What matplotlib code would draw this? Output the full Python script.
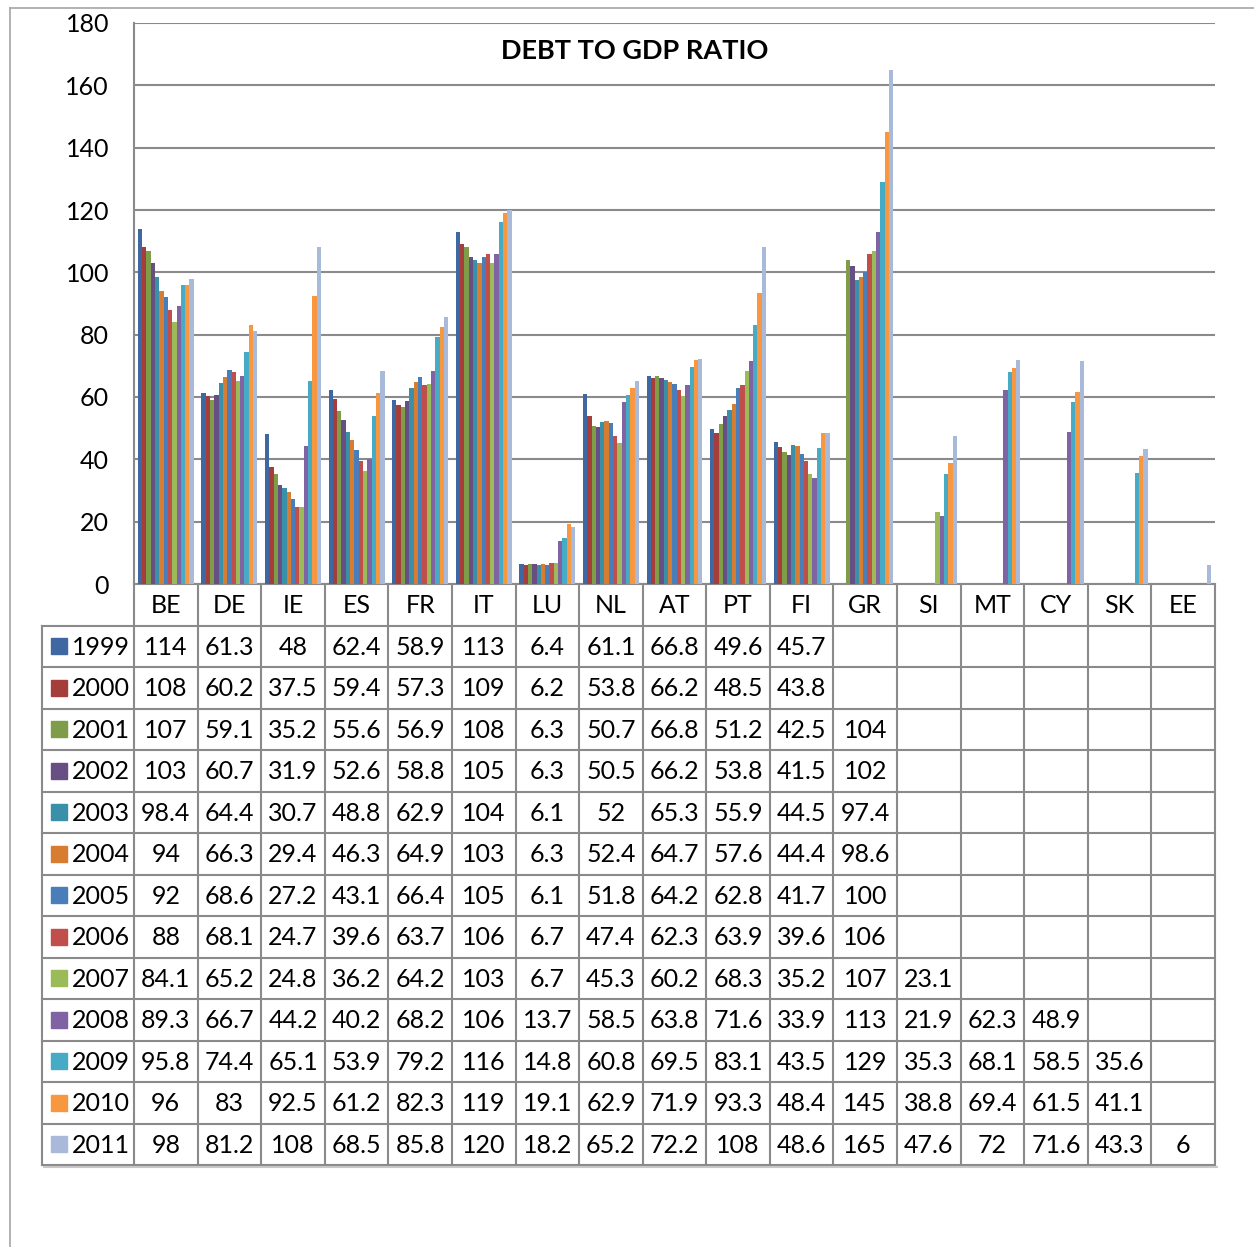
import numpy as np
import matplotlib
matplotlib.use("Agg")
import matplotlib.pyplot as plt
from matplotlib.patches import Rectangle

plt.rcParams['font.family'] = ['Lato', 'DejaVu Sans']

countries = ['BE', 'DE', 'IE', 'ES', 'FR', 'IT', 'LU', 'NL', 'AT', 'PT', 'FI',
             'GR', 'SI', 'MT', 'CY', 'SK', 'EE']
years = ['1999', '2000', '2001', '2002', '2003', '2004', '2005', '2006',
         '2007', '2008', '2009', '2010', '2011']

N = None
be = [114, 108, 107, 103, 98.4, 94, 92, 88, 84.1, 89.3, 95.8, 96, 98]
de = [61.3, 60.2, 59.1, 60.7, 64.4, 66.3, 68.6, 68.1, 65.2, 66.7, 74.4, 83, 81.2]
ie = [48, 37.5, 35.2, 31.9, 30.7, 29.4, 27.2, 24.7, 24.8, 44.2, 65.1, 92.5, 108]
es = [62.4, 59.4, 55.6, 52.6, 48.8, 46.3, 43.1, 39.6, 36.2, 40.2, 53.9, 61.2, 68.5]
fr = [58.9, 57.3, 56.9, 58.8, 62.9, 64.9, 66.4, 63.7, 64.2, 68.2, 79.2, 82.3, 85.8]
it = [113, 109, 108, 105, 104, 103, 105, 106, 103, 106, 116, 119, 120]
lu = [6.4, 6.2, 6.3, 6.3, 6.1, 6.3, 6.1, 6.7, 6.7, 13.7, 14.8, 19.1, 18.2]
nl = [61.1, 53.8, 50.7, 50.5, 52, 52.4, 51.8, 47.4, 45.3, 58.5, 60.8, 62.9, 65.2]
at = [66.8, 66.2, 66.8, 66.2, 65.3, 64.7, 64.2, 62.3, 60.2, 63.8, 69.5, 71.9, 72.2]
pt = [49.6, 48.5, 51.2, 53.8, 55.9, 57.6, 62.8, 63.9, 68.3, 71.6, 83.1, 93.3, 108]
fi = [45.7, 43.8, 42.5, 41.5, 44.5, 44.4, 41.7, 39.6, 35.2, 33.9, 43.5, 48.4, 48.6]
gr = [N, N, 104, 102, 97.4, 98.6, 100, 106, 107, 113, 129, 145, 165]
si = [N, N, N, N, N, N, N, N, 23.1, 21.9, 35.3, 38.8, 47.6]
mt = [N, N, N, N, N, N, N, N, N, 62.3, 68.1, 69.4, 72]
cy = [N, N, N, N, N, N, N, N, N, 48.9, 58.5, 61.5, 71.6]
sk = [N, N, N, N, N, N, N, N, N, N, 35.6, 41.1, 43.3]
ee = [N, N, N, N, N, N, N, N, N, N, N, N, 6]

colors = ['#3F68A2', '#A53E3B', '#7F9D48', '#674F84', '#3A90A8', '#D67D31',
          '#4A7EBB', '#C04E4B', '#9BBB59', '#7F63A2', '#48ABC6', '#F7973F',
          '#A9B9D9']

data = [be, de, ie, es, fr, it, lu, nl, at, pt, fi, gr, si, mt, cy, sk, ee]
vals = np.array([[np.nan if v is None else v for v in c] for c in data]).T

W, H = 1254, 1247
fig = plt.figure(figsize=(W / 100, H / 100), dpi=100)

# pixel layout
px_l, px_r = 134, 1215
px_top, px_base = 23, 584
leg_l = 42
row_h = 41.5
colw = (px_r - px_l) / len(countries)
grey = '#8a8a8a'
fs = 18

# overlay for frame + table, in pixel coords
ov = fig.add_axes([0, 0, 1, 1])
ov.set_xlim(0, W)
ov.set_ylim(H, 0)
ov.axis('off')
ov.plot([10, 10], [8, H], color='#a6a6a6', lw=1.2)
ov.plot([10, W], [8, 8], color='#a6a6a6', lw=1.2)

# chart axes
ax = fig.add_axes([px_l / W, (H - px_base) / H, (px_r - px_l) / W, (px_base - px_top) / H])
x = np.arange(len(countries))
nser = len(years)
bw = 0.88 / nser
for i, yr in enumerate(years):
    ax.bar(x - 0.44 + bw * (i + 0.5), vals[i], width=bw, color=colors[i],
           edgecolor='none', zorder=3)
ax.set_xlim(-0.5, len(countries) - 0.5)
ax.set_ylim(0, 180)
ax.set_yticks(np.arange(0, 181, 20))
ax.set_xticks([])
ax.tick_params(axis='y', length=0, pad=18, labelsize=fs)
ax.grid(axis='y', color=grey, lw=1.5, zorder=0)
for s in ['right', 'top']:
    ax.spines[s].set_visible(False)
ax.spines['left'].set_color(grey)
ax.spines['left'].set_linewidth(1.5)
ax.spines['bottom'].set_color(grey)
ax.spines['bottom'].set_linewidth(1.5)
ax.text(0.463, 0.95, 'DEBT TO GDP RATIO', transform=ax.transAxes,
        ha='center', va='center', fontsize=19.5, fontweight='bold')

# data table
tab_bot = px_base + row_h * (nser + 1)
first_row = px_base + row_h
for j in range(len(countries) + 1):
    xx = px_l + j * colw
    ov.plot([xx, xx], [px_base, tab_bot], color=grey, lw=1.5)
ov.plot([leg_l, leg_l], [first_row, tab_bot], color=grey, lw=1.5)
for r in range(1, nser + 2):
    yy = px_base + r * row_h
    ov.plot([leg_l, px_r], [yy, yy], color=grey, lw=1.5)
ov.plot([leg_l + 2, px_r + 2], [tab_bot + 2, tab_bot + 2], color='#c8c8c8', lw=1.5)

for j, c in enumerate(countries):
    ov.text(px_l + (j + 0.5) * colw, px_base + row_h / 2 + 1, c,
            ha='center', va='center', fontsize=fs)
for i, yr in enumerate(years):
    yc = px_base + (i + 1.5) * row_h
    ov.add_patch(Rectangle((51, yc - 8), 16, 16, color=colors[i]))
    ov.text(72, yc + 1, yr, ha='left', va='center', fontsize=fs)
    for j in range(len(countries)):
        v = vals[i, j]
        if not np.isnan(v):
            ov.text(px_l + (j + 0.5) * colw, yc + 1, f"{v:g}",
                    ha='center', va='center', fontsize=fs)

fig.savefig('out.png', dpi=100)
